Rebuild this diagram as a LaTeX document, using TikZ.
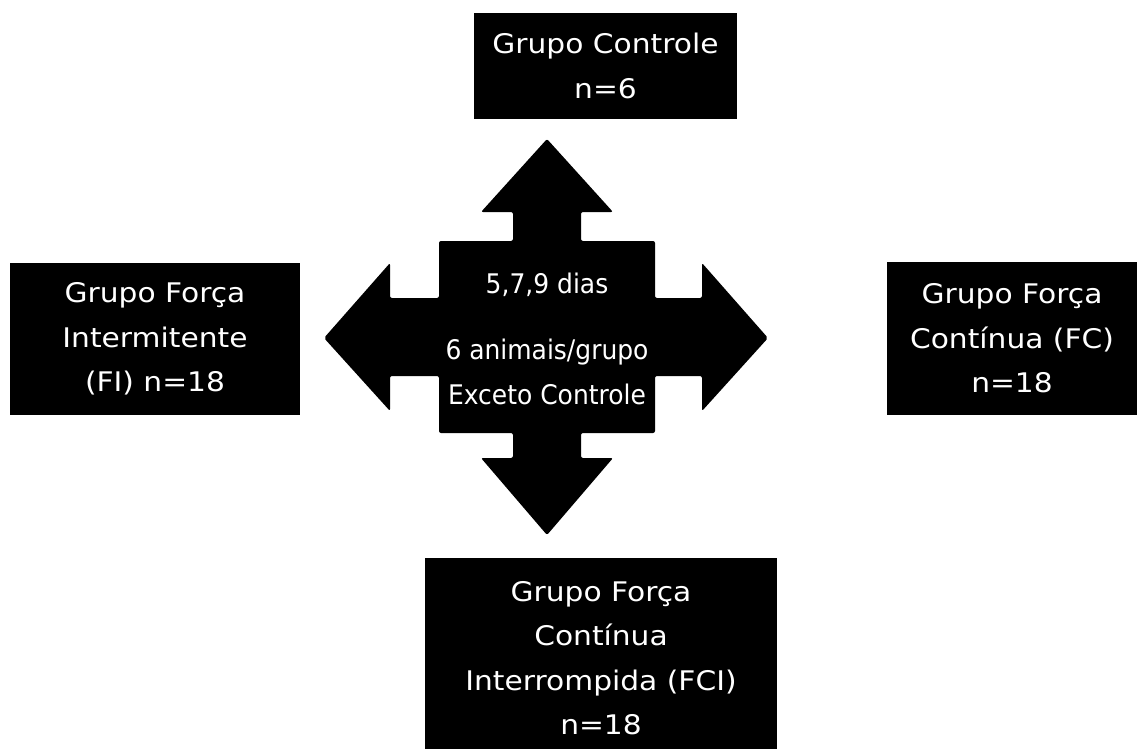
\documentclass[tikz,border=0pt]{standalone}
\usepackage{fontspec}
\setmainfont[FakeStretch=1.1]{DejaVu Sans}
\newfontfamily\hubfont[FakeStretch=0.925]{DejaVu Sans}
\begin{document}
\begin{tikzpicture}[x=1pt,y=-1pt,
  grpbox/.style={fill=black,text=white,inner sep=0pt,align=center,
    font=\fontsize{27}{44.5}\selectfont},
  grptext/.style={text=white,inner sep=0pt,align=center,
    font=\fontsize{27}{44.5}\selectfont},
  hub/.style={fill=black,rounded corners=2pt},
  hubtext/.style={text=white,inner sep=0pt,align=center,
    font=\hubfont\fontsize{27}{45}\selectfont}]
\useasboundingbox (0,0) rectangle (1137,749);
\fill[white] (0,0) rectangle (1137,749);
% central four-way arrow
\path[hub] (547,139) -- (613,212) -- (581,212) -- (581,241) -- (655,241) -- (655,298)
  -- (702,298) -- (702,263) -- (768,338) -- (702,411) -- (702,376) -- (655,376)
  -- (655,433) -- (581,433) -- (581,458) -- (613,458) -- (547,535) -- (481,458)
  -- (513,458) -- (513,433) -- (439,433) -- (439,376) -- (390,376) -- (390,411)
  -- (324,338) -- (390,263) -- (390,298) -- (439,298) -- (439,241) -- (513,241)
  -- (513,212) -- (481,212) -- cycle;
\node[hubtext] (hubt) at (547,339) {5,7,9 dias\\[21pt]6 animais/grupo\\Exceto Controle};
% group boxes
\node[grpbox,minimum width=263pt,minimum height=106pt] (ctrl) at (605.5,66)
  {Grupo Controle\\n=6};
\node[grpbox,minimum width=290pt,minimum height=152pt] (fi) at (155,339)
  {Grupo Força\\Intermitente\\(FI) n=18};
\node[grpbox,minimum width=250pt,minimum height=153pt] (fc) at (1012,338.5)
  {Grupo Força\\Contínua (FC)\\n=18};
\node[fill=black,inner sep=0pt,minimum width=352pt,minimum height=191pt] (fci) at (601,653.5) {};
\node[grptext] (fcit) at (601,658)
  {Grupo Força\\Contínua\\Interrompida (FCI)\\n=18};
\end{tikzpicture}
\end{document}
